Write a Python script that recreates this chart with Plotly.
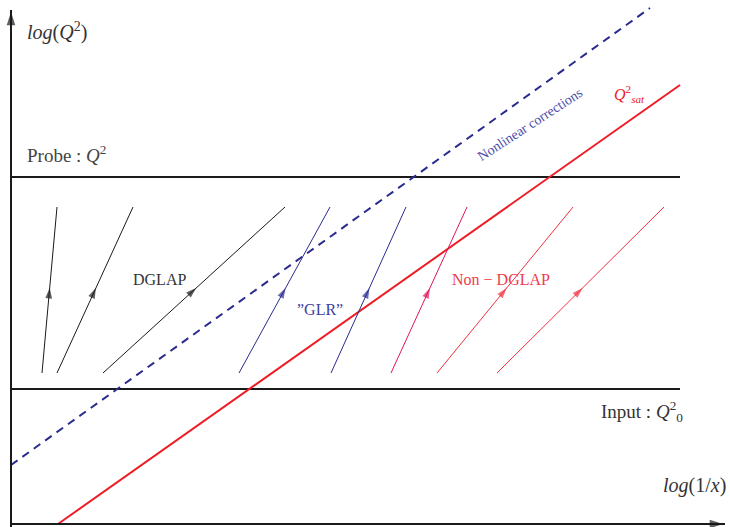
import plotly.graph_objects as go

# Schematic coordinates: u = log(1/x) direction (left -> right), v = log(Q^2) downward screen units
W, H = 730, 527

# Axes of the diagram
axis_origin = (11, 524)
axis_top_v = 6
axis_right_u = 729

# Horizontal reference levels: probe scale Q^2 and input scale Q0^2
level_names = ["probe", "input"]
level_v = [177, 389]
level_u0 = [11, 11]
level_u1 = [680, 680]

# Saturation line and nonlinear-corrections boundary
sat_u = [58, 680]
sat_v = [524, 85]
nonlin_u = [11, 650]
nonlin_v = [465, 8]

# Evolution paths (start u, end u); all run from path_v0 up to path_v1
dglap_u0 = [42, 57, 103]
dglap_u1 = [57, 133, 285]
glr_u0 = [239, 331]
glr_u1 = [330, 406]
pink_u0 = [391]
pink_u1 = [467]
nondglap_u0 = [437, 497]
nondglap_u1 = [573, 664]
path_v0 = 373
path_v1 = 207
arrow_v = 288

families = [
    (dglap_u0, dglap_u1, "#1a1a1a"),
    (glr_u0, glr_u1, "#2a2a90"),
    (pink_u0, pink_u1, "#e0145e"),
    (nondglap_u0, nondglap_u1, "#f0303e"),
]

fig = go.Figure()

# Reference levels
for u0, u1, v in zip(level_u0, level_u1, level_v):
    fig.add_trace(go.Scatter(x=[u0, u1], y=[v, v], mode="lines",
                             line=dict(color="#1a1a1a", width=2.2), hoverinfo="skip"))

# Nonlinear boundary (dashed)
fig.add_trace(go.Scatter(x=nonlin_u, y=nonlin_v, mode="lines",
                         line=dict(color="#2b2b8f", width=2, dash="8px,6px"), hoverinfo="skip"))
# Saturation scale
fig.add_trace(go.Scatter(x=sat_u, y=sat_v, mode="lines",
                         line=dict(color="#ee1c25", width=2), hoverinfo="skip"))

for u0s, u1s, col in families:
    for u0, u1 in zip(u0s, u1s):
        fig.add_trace(go.Scatter(x=[u0, u1], y=[path_v0, path_v1], mode="lines",
                                 line=dict(color=col, width=1), hoverinfo="skip"))
        # arrowhead along the path, oriented by the preceding segment
        t = (path_v0 - arrow_v) / (path_v0 - path_v1)
        hx = u0 + t * (u1 - u0)
        fig.add_trace(go.Scatter(
            x=[u0, hx], y=[path_v0, arrow_v], mode="markers",
            marker=dict(symbol=["circle", "arrow"], size=[0, 11], color=col,
                        angleref="previous", line=dict(width=0)),
            hoverinfo="skip"))

# Diagram axes with arrowheads
ox, oy = axis_origin
fig.add_trace(go.Scatter(x=[ox, ox], y=[H, axis_top_v + 4], mode="lines",
                         line=dict(color="#1a1a1a", width=2), hoverinfo="skip"))
fig.add_trace(go.Scatter(x=[ox, axis_right_u - 4], y=[oy, oy], mode="lines",
                         line=dict(color="#1a1a1a", width=2), hoverinfo="skip"))
fig.add_trace(go.Scatter(
    x=[ox, ox, ox, axis_right_u - 6], y=[H, axis_top_v + 6, oy, oy], mode="markers",
    marker=dict(symbol=["circle", "arrow", "circle", "arrow"], size=[0, 14, 0, 14],
                color="#1a1a1a", angleref="previous", line=dict(width=0)),
    hoverinfo="skip"))

serif = "Liberation Serif"
txt = "#333333"
labels = [
    (25, 31, "<i>log</i>(<i>Q</i><sup>2</sup>)", 20, txt, 0, "left"),
    (25, 154, "Probe : <i>Q</i><sup>2</sup>", 19, "#444444", 0, "left"),
    (530, 124, "Nonlinear corrections", 14, "#5050aa", -33, "center"),
    (629, 94, "<i>Q</i><sup>2</sup><sub><i>sat</i></sub>", 16, "#ee1c25", 0, "center"),
    (159, 279, "DGLAP", 16, "#333333", 0, "center"),
    (320, 309, "”GLR”", 16, "#4040a0", 0, "center"),
    (501, 279, "Non − DGLAP", 16, "#f03c4c", 0, "center"),
    (642, 411, "Input : <i>Q</i><sup>2</sup><sub>0</sub>", 19, "#333333", 0, "center"),
    (694, 485, "<i>log</i>(1/<i>x</i>)", 20, "#333333", 0, "center"),
]
annotations = []
for x, y, t, s, c, ang, al in labels:
    annotations.append(dict(x=x, y=y, xref="x", yref="y", text=t, showarrow=False,
                            font=dict(family=serif, size=s, color=c), textangle=ang,
                            xanchor=al, yanchor="middle"))

fig.update_layout(
    width=W, height=H, margin=dict(l=0, r=0, t=0, b=0),
    paper_bgcolor="white", plot_bgcolor="white", showlegend=False,
    xaxis=dict(range=[0, W], visible=False, fixedrange=True),
    yaxis=dict(range=[H, 0], visible=False, fixedrange=True),
    annotations=annotations,
)

fig.write_html("out.html")
